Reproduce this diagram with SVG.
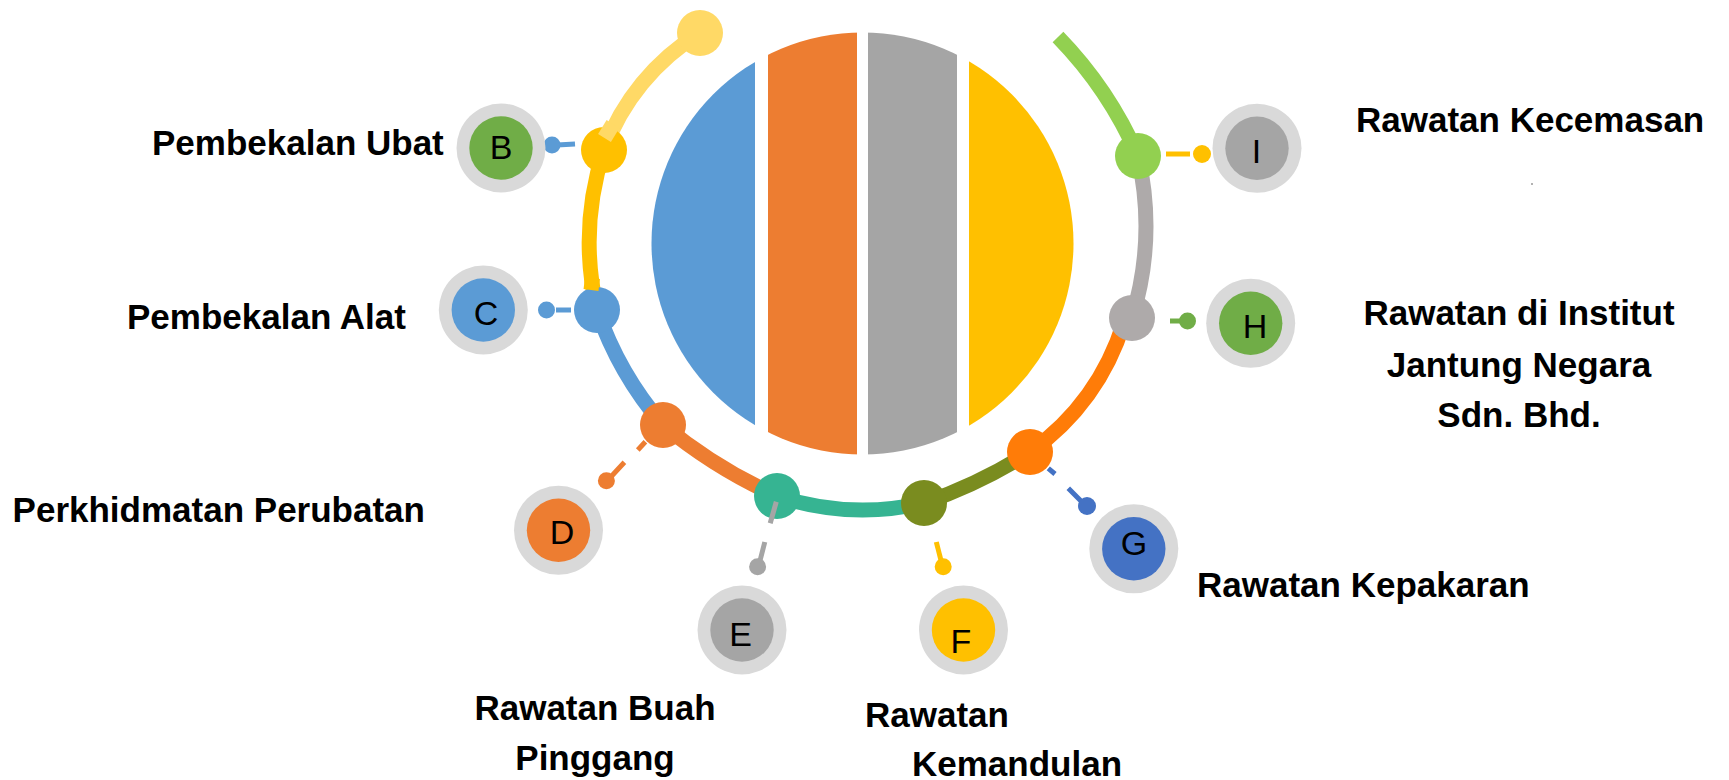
<svg xmlns="http://www.w3.org/2000/svg" width="1729" height="780" viewBox="0 0 1729 780">
<style>
.lbl{font-family:"Liberation Sans",Arial,sans-serif;font-weight:bold;font-size:35px;fill:#000}
.mid{text-anchor:middle}
.let{font-family:"Liberation Sans",Arial,sans-serif;font-size:34px;fill:#000;text-anchor:middle}
.ring{fill:none;stroke-width:15}
.con{fill:none;stroke-width:5}
.halo{fill:#D9D9D9}
</style>
<defs>
<clipPath id="disc"><circle cx="862.5" cy="243.5" r="211"/></clipPath>
</defs>
<rect width="1729" height="780" fill="#fff"/>

<g id="center-disc" clip-path="url(#disc)">
<rect x="651" y="20" width="104" height="450" fill="#5B9BD5"/>
<rect x="768" y="20" width="89" height="450" fill="#ED7D31"/>
<rect x="868" y="20" width="89" height="450" fill="#A5A5A5"/>
<rect x="969" y="20" width="105" height="450" fill="#FFC000"/>
</g>

<g id="ring">
<path class="ring" stroke="#FFD966" d="M700,33 A230,230 0 0 0 604,150"/>
<path class="ring" stroke="#FFC000" d="M604,150 A300,300 0 0 0 597,310"/>
<path class="ring" stroke="#5B9BD5" d="M597,310 A350,350 0 0 0 663,425"/>
<path class="ring" stroke="#ED7D31" d="M663,425 A500,500 0 0 0 777,496"/>
<path class="ring" stroke="#36B492" d="M777,496 A275,275 0 0 0 924,503"/>
<path class="ring" stroke="#7A8C1F" d="M924,503 A500,500 0 0 0 1030,452"/>
<path class="ring" stroke="#FF7C08" d="M1030,452 Q1098.9,402.8 1124,322"/>
<path class="ring" stroke="#AEAAAA" d="M1132,318 A315,315 0 0 0 1138,156"/>
<path class="ring" stroke="#92D050" d="M1138,156 A400,400 0 0 0 1058,37"/>
</g>

<g id="ring-nodes">
<circle cx="700" cy="33" r="23" fill="#FFD966"/>
<circle cx="604" cy="150" r="23" fill="#FFC000"/>
<circle cx="597" cy="310" r="23" fill="#5B9BD5"/>
<circle cx="663" cy="425" r="23" fill="#ED7D31"/>
<circle cx="777" cy="496" r="23" fill="#36B492"/>
<circle cx="924" cy="503" r="23" fill="#7A8C1F"/>
<circle cx="1030" cy="452" r="23" fill="#FF7C08"/>
<circle cx="1132" cy="318" r="23" fill="#AEAAAA"/>
<circle cx="1138" cy="156" r="23" fill="#92D050"/>
<path class="ring" stroke="#FFD966" d="M613,124 L604.5,138"/>
<path class="ring" stroke="#FFC000" d="M592.5,278 L591,290"/>
</g>

<g id="connectors">
<g stroke="#5B9BD5" fill="#5B9BD5"><path class="con" d="M575,144 L557,145"/><circle cx="552" cy="145" r="8.5" stroke="none"/></g>
<g stroke="#5B9BD5" fill="#5B9BD5"><path class="con" d="M571,310 L556,310"/><circle cx="546.5" cy="310" r="8.5" stroke="none"/></g>
<g stroke="#ED7D31" fill="#ED7D31"><path class="con" d="M645.4,441.7 L637.8,450 M624.4,462.3 L611,476.7"/><circle cx="606.4" cy="480.7" r="8.5" stroke="none"/></g>
<g stroke="#A5A5A5" fill="#A5A5A5"><path class="con" d="M776.3,501.7 L770.2,523.3 M764.8,542 L760.2,560"/><circle cx="757.6" cy="566.7" r="8.5" stroke="none"/></g>
<g stroke="#FFC000" fill="#FFC000"><path class="con" d="M936.3,542 L940.9,560"/><circle cx="943.2" cy="566.7" r="8.5" stroke="none"/></g>
<g stroke="#4472C4" fill="#4472C4"><path class="con" d="M1048.3,468.3 L1055,474 M1068.3,488.3 L1081.7,501.7"/><circle cx="1087" cy="506" r="9" stroke="none"/></g>
<g stroke="#70AD47" fill="#70AD47"><path class="con" d="M1170,321 L1183,321"/><circle cx="1187.5" cy="321" r="8.5" stroke="none"/></g>
<g stroke="#FFC000" fill="#FFC000"><path class="con" d="M1166,154 L1190,154"/><circle cx="1202" cy="154" r="9" stroke="none"/></g>
</g>

<g id="node-B"><circle class="halo" cx="501" cy="148" r="44.5"/><circle cx="501" cy="148" r="31.7" fill="#70AD47"/><text class="let" x="501" y="159" font-size="32">B</text><text class="lbl" x="152" y="155">Pembekalan Ubat</text></g>
<g id="node-C"><circle class="halo" cx="483.3" cy="310" r="44.5"/><circle cx="483.3" cy="310" r="31.7" fill="#5B9BD5"/><text class="let" x="486" y="325" font-size="32">C</text><text class="lbl" x="127" y="329">Pembekalan Alat</text></g>
<g id="node-D"><circle class="halo" cx="558.5" cy="530.3" r="44.5"/><circle cx="558.5" cy="530.3" r="31.7" fill="#ED7D31"/><text class="let" x="562" y="544">D</text><text class="lbl" x="12.6" y="522">Perkhidmatan Perubatan</text></g>
<g id="node-E"><circle class="halo" cx="742" cy="630" r="44.5"/><circle cx="742" cy="630" r="31.7" fill="#A5A5A5"/><text class="let" x="740.5" y="646" font-size="36">E</text><text class="lbl mid" x="595" y="720">Rawatan Buah</text><text class="lbl mid" x="595" y="770">Pinggang</text></g>
<g id="node-F"><circle class="halo" cx="963.5" cy="630" r="44.5"/><circle cx="963.5" cy="630" r="31.7" fill="#FFC000"/><text class="let" x="961" y="653" font-size="36">F</text><text class="lbl" x="865" y="727">Rawatan</text><text class="lbl" x="912" y="776">Kemandulan</text></g>
<g id="node-G"><circle class="halo" cx="1133.8" cy="548.8" r="44.5"/><circle cx="1133.8" cy="548.8" r="31.7" fill="#4472C4"/><text class="let" x="1134" y="555">G</text><text class="lbl" x="1197" y="597">Rawatan Kepakaran</text></g>
<g id="node-H"><circle class="halo" cx="1250.7" cy="323.3" r="44.5"/><circle cx="1250.7" cy="323.3" r="31.7" fill="#70AD47"/><text class="let" x="1255" y="338">H</text><text class="lbl mid" x="1519" y="325">Rawatan di Institut</text><text class="lbl mid" x="1519" y="377">Jantung Negara</text><text class="lbl mid" x="1519" y="427">Sdn. Bhd.</text></g>
<g id="node-I"><circle class="halo" cx="1257" cy="148.3" r="44.5"/><circle cx="1257" cy="148.3" r="31.7" fill="#A5A5A5"/><text class="let" x="1256.5" y="163">I</text><text class="lbl" x="1356" y="132">Rawatan Kecemasan</text></g>
<circle cx="1532" cy="184" r="1" fill="#999"/>
</svg>
